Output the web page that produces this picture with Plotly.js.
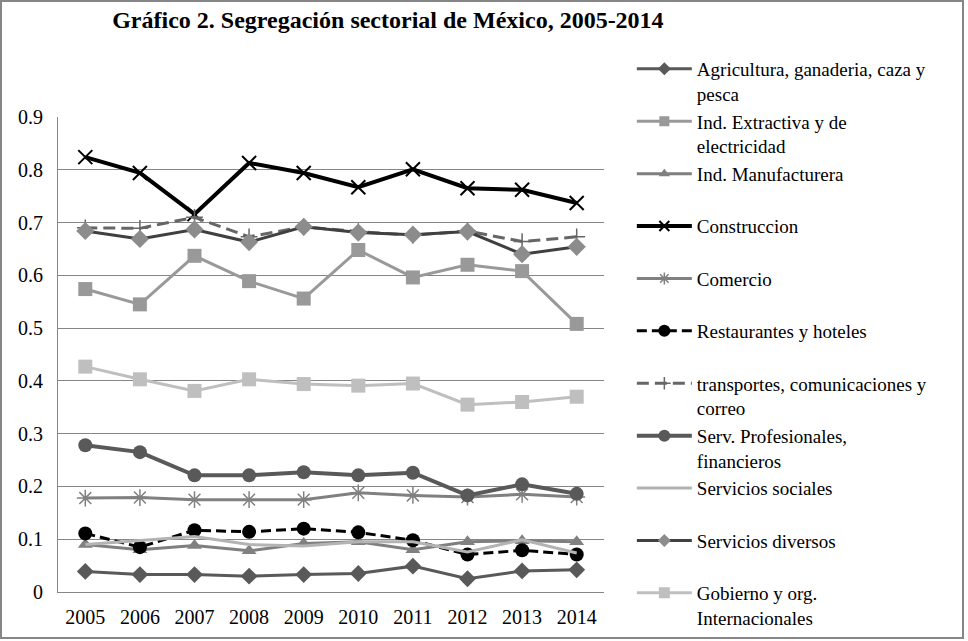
<!DOCTYPE html>
<html>
<head>
<meta charset="utf-8">
<script src="https://cdn.plot.ly/plotly-3.0.1.min.js"></script>
<style>
  body { margin: 0; background: #fff; }
  #chart { width: 960px; height: 635px; border: 2px solid #868686; }
</style>
</head>
<body>
<div id="chart"></div>
<script>
// years on the x axis
const years = ['2005', '2006', '2007', '2008', '2009', '2010', '2011', '2012', '2013', '2014'];

// values, one array per sector
const agricultura = [0.039, 0.033, 0.033, 0.030, 0.033, 0.035, 0.049, 0.025, 0.040, 0.042];
const extractiva = [0.574, 0.545, 0.637, 0.589, 0.556, 0.648, 0.596, 0.620, 0.608, 0.508];
const manufacturera = [0.090, 0.080, 0.088, 0.078, 0.092, 0.095, 0.080, 0.095, 0.097, 0.095];
const construccion = [0.824, 0.794, 0.716, 0.813, 0.794, 0.767, 0.801, 0.765, 0.762, 0.737];
const comercio = [0.178, 0.179, 0.175, 0.175, 0.175, 0.188, 0.183, 0.180, 0.185, 0.180];
const restaurantes = [0.111, 0.085, 0.117, 0.114, 0.120, 0.113, 0.098, 0.071, 0.079, 0.071];
const transportes = [0.690, 0.689, 0.710, 0.673, 0.692, 0.683, 0.676, 0.684, 0.664, 0.673];
const profesionales = [0.278, 0.265, 0.221, 0.221, 0.227, 0.221, 0.226, 0.183, 0.204, 0.186];
const sociales = [0.090, 0.098, 0.105, 0.090, 0.087, 0.095, 0.095, 0.076, 0.099, 0.074];
const diversos = [0.684, 0.669, 0.687, 0.663, 0.692, 0.681, 0.677, 0.683, 0.640, 0.654];
const gobierno = [0.427, 0.403, 0.381, 0.403, 0.394, 0.391, 0.395, 0.355, 0.360, 0.370];

const font = 'Liberation Serif';

let plotTraces = [];
let legendTraces = [];

// one trace for the plot, plus an empty copy with smaller markers for the legend
function addSeries(name, y, color, width, dash, marker, legendSize) {
  let t = {
    x: years,
    y: y,
    name: name,
    type: 'scatter',
    mode: marker ? 'lines+markers' : 'lines',
    line: { color: color, width: width, dash: dash || 'solid' },
    showlegend: false
  };
  if (marker) t.marker = marker;
  plotTraces.push(t);

  let l = {
    x: [null],
    y: [null],
    name: name,
    type: 'scatter',
    mode: t.mode,
    line: t.line
  };
  if (marker) l.marker = Object.assign({}, marker, { size: legendSize });
  legendTraces.push(l);
}

// single line legend entries get an empty second line so all rows are the same height
addSeries('Agricultura, ganaderia, caza y<br>pesca', agricultura, '#595959', 3, null,
  { symbol: 'diamond', size: 13, color: '#595959' }, 10);
addSeries('Ind. Extractiva y de<br>electricidad', extractiva, '#999999', 3, null,
  { symbol: 'square', size: 14, color: '#999999' }, 10);
addSeries('Ind. Manufacturera<br> ', manufacturera, '#7f7f7f', 3, null,
  { symbol: 'triangle-up', size: 13, color: '#808080' }, 10);
addSeries('Construccion<br> ', construccion, '#000000', 4, null,
  { symbol: 'x-thin-open', size: 14, color: '#000000', line: { width: 2, color: '#000000' } }, 10);
addSeries('Comercio<br> ', comercio, '#808080', 3, null,
  { symbol: 'asterisk-open', size: 14, color: '#808080', line: { width: 1.5, color: '#808080' } }, 10);
addSeries('Restaurantes y hoteles<br> ', restaurantes, '#000000', 3, '10px,5px',
  { symbol: 'circle', size: 14, color: '#000000' }, 12);
addSeries('transportes, comunicaciones y<br>correo', transportes, '#666666', 3, '12px,6px',
  { symbol: 'cross-thin-open', size: 12, color: '#666666', line: { width: 1.5, color: '#666666' } }, 9);
addSeries('Serv. Profesionales,<br>financieros', profesionales, '#595959', 4, null,
  { symbol: 'circle', size: 14, color: '#595959' }, 12);
addSeries('Servicios sociales<br> ', sociales, '#b3b3b3', 3, null, null, 0);
addSeries('Servicios diversos<br> ', diversos, '#404040', 3, null,
  { symbol: 'diamond', size: 14, color: '#8c8c8c' }, 10);
addSeries('Gobierno y org.<br>Internacionales', gobierno, '#bfbfbf', 3, null,
  { symbol: 'square', size: 14, color: '#bfbfbf' }, 11);

let data = plotTraces.concat(legendTraces);

let layout = {
  width: 960,
  height: 635,
  paper_bgcolor: '#ffffff',
  plot_bgcolor: '#ffffff',
  font: { family: font, size: 19, color: '#000000' },
  margin: { l: 56, r: 358, t: 115, b: 45 },
  title: {
    text: '<b>Gráfico 2. Segregación sectorial de México, 2005-2014</b>',
    font: { family: font, size: 24, color: '#000000' },
    x: 0.402, xref: 'container', xanchor: 'center',
    y: 0.972, yref: 'container', yanchor: 'middle'
  },
  xaxis: {
    type: 'category',
    range: [-0.5, 9.5],
    showgrid: false,
    showline: true,
    linecolor: '#868686',
    linewidth: 1,
    ticks: '',
    ticklabelstandoff: 7,
    tickfont: { family: font, size: 20 }
  },
  yaxis: {
    range: [0, 0.9],
    dtick: 0.1,
    showline: true,
    linecolor: '#868686',
    gridcolor: '#868686',
    gridwidth: 1,
    zeroline: false,
    ticks: '',
    ticklabelstandoff: 10,
    tickfont: { family: font, size: 20 }
  },
  legend: {
    x: 1.051, xanchor: 'left',
    y: 1.122, yanchor: 'top',
    valign: 'top',
    itemwidth: 55,
    maxheight: 630,
    bgcolor: 'rgba(0,0,0,0)',
    font: { family: font, size: 19, color: '#000000' }
  },
  showlegend: true
};

Plotly.newPlot('chart', data, layout, { displayModeBar: false, staticPlot: true });
</script>
</body>
</html>
